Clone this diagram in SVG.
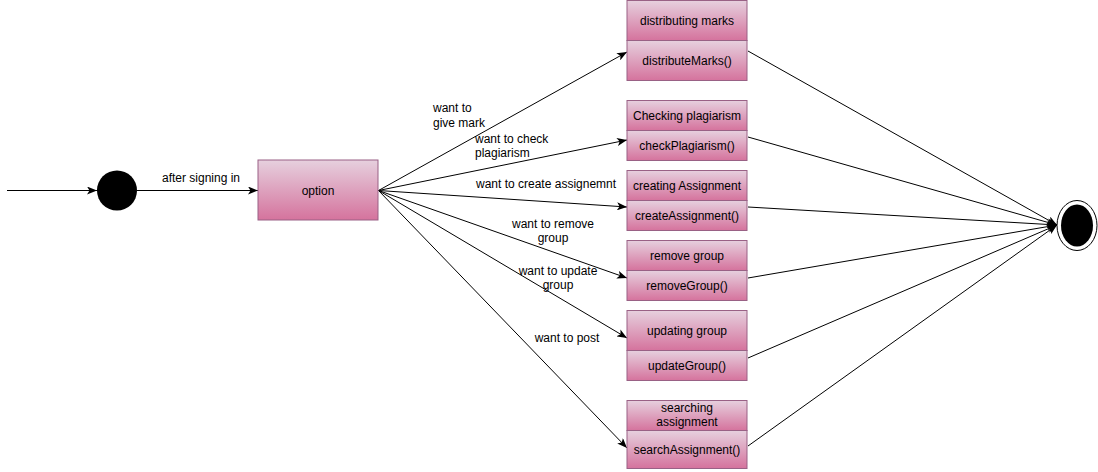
<svg xmlns="http://www.w3.org/2000/svg" width="1098" height="472" viewBox="0 0 1098 472">
<style>
.box{fill:url(#pink);stroke:#996185;stroke-width:1}
.t{font-family:"Liberation Sans",Arial,sans-serif;font-size:12px;fill:#000}
.c{text-anchor:middle}
.e{fill:none;stroke:#000;stroke-width:1}
</style>
<defs>
<linearGradient id="pink" x1="0" y1="0" x2="0" y2="1">
<stop offset="0" stop-color="#e6d0de"/>
<stop offset="1" stop-color="#d5739d"/>
</linearGradient>
<marker id="arr" viewBox="0 0 10 8" refX="10" refY="4" markerWidth="10" markerHeight="8" markerUnits="userSpaceOnUse" orient="auto">
<path d="M0,0 L10,4 L0,8 L2.5,4 z" fill="#000"/>
</marker>
</defs>
<g id="connectors">
<line class="e" x1="7" y1="190.5" x2="97" y2="190.5" marker-end="url(#arr)"/>
<line class="e" x1="137" y1="190.5" x2="258" y2="190.5" marker-end="url(#arr)"/>
<line class="e" x1="378.5" y1="190.5" x2="627" y2="52" marker-end="url(#arr)"/>
<line class="e" x1="378.5" y1="190.5" x2="627" y2="140" marker-end="url(#arr)"/>
<line class="e" x1="378.5" y1="190.5" x2="627" y2="207" marker-end="url(#arr)"/>
<line class="e" x1="378.5" y1="190.5" x2="627" y2="278" marker-end="url(#arr)"/>
<line class="e" x1="378.5" y1="190.5" x2="627" y2="338" marker-end="url(#arr)"/>
<line class="e" x1="378.5" y1="190.5" x2="627" y2="448" marker-end="url(#arr)"/>
<line class="e" x1="748" y1="51" x2="1057" y2="225" marker-end="url(#arr)"/>
<line class="e" x1="748" y1="137" x2="1057" y2="225" marker-end="url(#arr)"/>
<line class="e" x1="748" y1="207" x2="1057" y2="225" marker-end="url(#arr)"/>
<line class="e" x1="748" y1="278" x2="1057" y2="225" marker-end="url(#arr)"/>
<line class="e" x1="748" y1="358" x2="1057" y2="225" marker-end="url(#arr)"/>
<line class="e" x1="748" y1="446" x2="1057" y2="225" marker-end="url(#arr)"/>
<text class="t c" x="201" y="182">after signing in</text>
<text class="t" x="433" y="112">want to</text>
<text class="t" x="433" y="127">give mark</text>
<text class="t" x="475" y="143">want to check</text>
<text class="t" x="475" y="157">plagiarism</text>
<text class="t" x="476" y="188">want to create assignemnt</text>
<text class="t c" x="553" y="228">want to remove</text>
<text class="t c" x="553" y="242">group</text>
<text class="t c" x="558" y="275">want to update</text>
<text class="t c" x="558" y="289">group</text>
<text class="t c" x="567" y="342">want to post</text>
</g>
<g id="start">
<circle cx="117" cy="190.5" r="20" fill="#000"/>
</g>
<g id="option">
<rect class="box" x="258" y="160" width="120" height="60"/>
<text class="t c" x="318" y="194.5">option</text>
</g>
<g id="distributing">
<rect class="box" x="627" y="0.5" width="120" height="40"/>
<rect class="box" x="627" y="40.5" width="120" height="40"/>
<text class="t c" x="687" y="24.5">distributing marks</text>
<text class="t c" x="687" y="64.5">distributeMarks()</text>
</g>
<g id="checking">
<rect class="box" x="627" y="100.5" width="120" height="30"/>
<rect class="box" x="627" y="130.5" width="120" height="30"/>
<text class="t c" x="687" y="119.5">Checking plagiarism</text>
<text class="t c" x="687" y="149.5">checkPlagiarism()</text>
</g>
<g id="creating">
<rect class="box" x="627" y="170.5" width="120" height="30"/>
<rect class="box" x="627" y="200.5" width="120" height="30"/>
<text class="t c" x="687" y="189.5">creating Assignment</text>
<text class="t c" x="687" y="219.5">createAssignment()</text>
</g>
<g id="remove">
<rect class="box" x="627" y="240.5" width="120" height="30"/>
<rect class="box" x="627" y="270.5" width="120" height="30"/>
<text class="t c" x="687" y="259.5">remove group</text>
<text class="t c" x="687" y="289.5">removeGroup()</text>
</g>
<g id="updating">
<rect class="box" x="627" y="310.5" width="120" height="40"/>
<rect class="box" x="627" y="350.5" width="120" height="30"/>
<text class="t c" x="687" y="334.5">updating group</text>
<text class="t c" x="687" y="369.5">updateGroup()</text>
</g>
<g id="searching">
<rect class="box" x="627" y="400.5" width="120" height="30"/>
<rect class="box" x="627" y="430.5" width="120" height="38"/>
<text class="t c" x="687" y="412">searching</text>
<text class="t c" x="687" y="426">assignment</text>
<text class="t c" x="687" y="453.5">searchAssignment()</text>
</g>
<g id="end">
<ellipse cx="1077" cy="225.5" rx="20" ry="25" fill="#fff" stroke="#000" stroke-width="1"/>
<ellipse cx="1077" cy="225.5" rx="16" ry="21" fill="#000"/>
</g>
</svg>
